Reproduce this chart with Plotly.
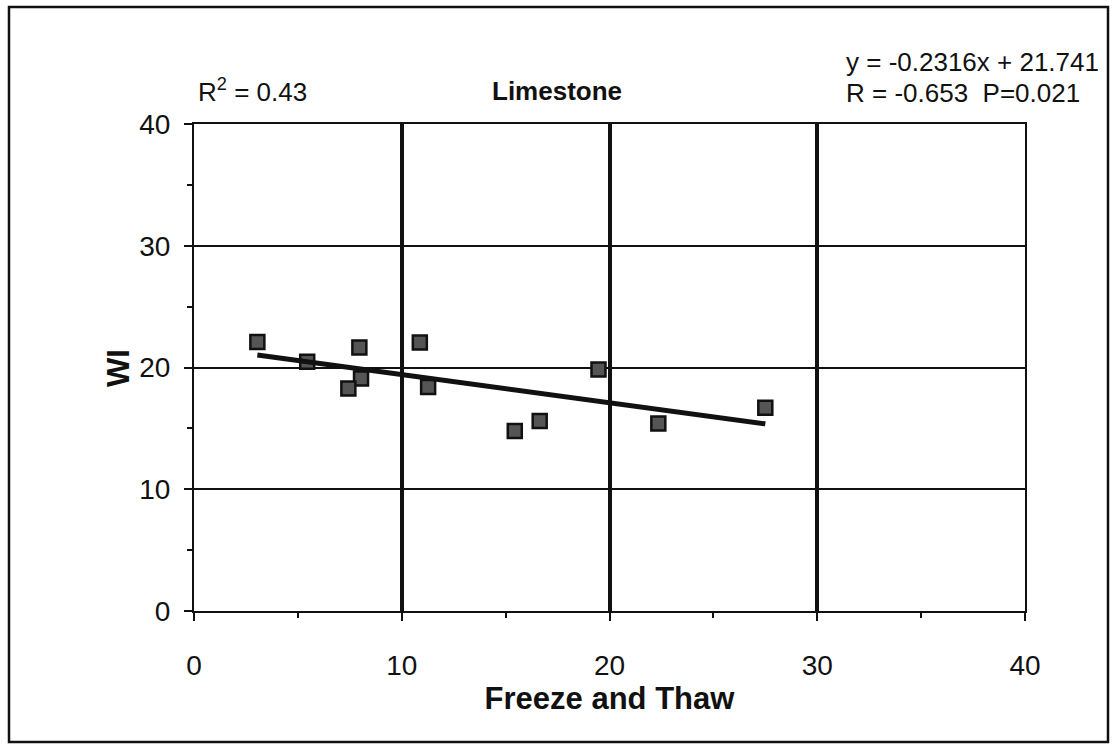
import plotly.graph_objects as go

# Data
freeze_thaw = [3.05, 5.45, 7.96, 8.04, 7.43, 10.87, 11.27, 15.44, 16.64, 19.47, 22.35, 27.5]
wi_values = [22.1, 20.47, 21.65, 19.1, 18.28, 22.06, 18.4, 14.78, 15.6, 19.84, 15.4, 16.7]

slope = -0.2316
intercept = 21.741

x_ticks = [0, 10, 20, 30, 40]
y_ticks = [0, 10, 20, 30, 40]

x_min, x_max = min(freeze_thaw), max(freeze_thaw)
fit_x = [x_min, x_max]
fit_y = [slope * v + intercept for v in fit_x]

FONT = "Liberation Sans, Arial, sans-serif"

W, H = 1116, 749
L, R, T, B = 194, 91, 124, 138
PW, PH = W - L - R, H - T - B


def px(xp):
    return (xp - L) / PW


def py(yp):
    return (H - B - yp) / PH


fig = go.Figure()
fig.add_trace(go.Scatter(
    x=freeze_thaw, y=wi_values, mode="markers",
    marker=dict(symbol="square", size=14, color="#555555",
                line=dict(color="#111111", width=2.5)),
    showlegend=False,
))
fig.add_trace(go.Scatter(
    x=fit_x, y=fit_y, mode="lines",
    line=dict(color="#111111", width=5),
    showlegend=False,
))

fig.update_layout(
    width=W, height=H,
    margin=dict(l=L, r=R, t=T, b=B),
    paper_bgcolor="white", plot_bgcolor="white",
    font=dict(family=FONT, color="#111111"),
    xaxis=dict(
        range=[0, 40], tickvals=x_ticks, ticktext=[str(v) for v in x_ticks],
        showgrid=True, gridcolor="#111111", gridwidth=3.5,
        zeroline=False, showline=True, linecolor="#111111", linewidth=2, mirror=True,
        ticks="outside", ticklen=8, tickwidth=2, tickcolor="#111111",
        minor=dict(dtick=5, ticks="outside", ticklen=5, tickwidth=1.5,
                   tickcolor="#111111", showgrid=False),
        tickfont=dict(size=28), ticklabelstandoff=20,
        title=dict(text="<b>Freeze and Thaw</b>", font=dict(size=31), standoff=2),
    ),
    yaxis=dict(
        range=[0, 40], tickvals=y_ticks, ticktext=[str(v) for v in y_ticks],
        showgrid=True, gridcolor="#111111", gridwidth=1.5,
        zeroline=False, showline=True, linecolor="#111111", linewidth=2, mirror=True,
        ticks="outside", ticklen=8, tickwidth=2, tickcolor="#111111",
        minor=dict(dtick=5, ticks="outside", ticklen=5, tickwidth=1.5,
                   tickcolor="#111111", showgrid=False),
        tickfont=dict(size=28), ticklabelstandoff=8,
    ),
    shapes=[dict(type="rect", xref="paper", yref="paper",
                 x0=px(9), x1=px(1108), y0=py(742), y1=py(7),
                 line=dict(color="#111111", width=2.5),
                 fillcolor="rgba(0,0,0,0)", layer="below")],
    annotations=[
        dict(text="<b>WI</b>", x=px(118), y=py(368), xref="paper", yref="paper",
             textangle=-90, showarrow=False, xanchor="center", yanchor="middle",
             font=dict(size=31)),
        dict(text="<b>Limestone</b>", x=px(557), y=py(91), xref="paper", yref="paper",
             showarrow=False, xanchor="center", yanchor="middle", font=dict(size=26)),
        dict(text="R<sup>2</sup> = 0.43", x=px(196), y=py(91), xref="paper", yref="paper",
             showarrow=False, xanchor="left", yanchor="middle", font=dict(size=26)),
        dict(text="y = -0.2316x + 21.741", x=px(1101), y=py(62), xref="paper", yref="paper",
             showarrow=False, xanchor="right", yanchor="middle", font=dict(size=26)),
        dict(text="R = -0.653  P=0.021", x=px(1082), y=py(93), xref="paper", yref="paper",
             showarrow=False, xanchor="right", yanchor="middle", font=dict(size=26)),
    ],
)

fig.write_html("out.html")
